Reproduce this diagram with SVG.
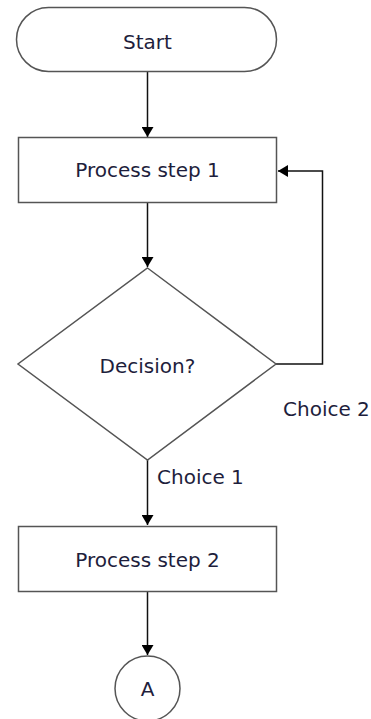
<svg xmlns="http://www.w3.org/2000/svg" width="371" height="719" viewBox="0 0 371 719">
<defs>
<marker id="arr" markerWidth="10" markerHeight="12" refX="10" refY="6" orient="auto" markerUnits="userSpaceOnUse">
<path d="M0,0 L10,6 L0,12 Z" fill="#000"/>
</marker>
</defs>
<style>
.shape{fill:#fff;stroke:#555;stroke-width:1.5}
.conn{fill:none;stroke:#111;stroke-width:1.5}
text{font-family:"DejaVu Sans","Verdana",sans-serif;font-size:20px;fill:#1e1e3c}
.c{text-anchor:middle}
</style>
<rect width="371" height="719" fill="#fff"/>
<g id="connectors">
<line class="conn" x1="147.5" y1="72" x2="147.5" y2="137" marker-end="url(#arr)"/>
<line class="conn" x1="147.5" y1="202" x2="147.5" y2="267" marker-end="url(#arr)"/>
<polyline class="conn" points="276,364 322.5,364 322.5,171 278,171" marker-end="url(#arr)"/>
<line class="conn" x1="147.5" y1="460" x2="147.5" y2="525" marker-end="url(#arr)"/>
<line class="conn" x1="147.5" y1="592" x2="147.5" y2="655" marker-end="url(#arr)"/>
<text x="157" y="484">Choice 1</text>
<text x="283" y="416">Choice 2</text>
</g>
<g id="start">
<rect class="shape" x="16.5" y="7.5" width="260" height="64" rx="32" ry="32"/>
<text class="c" x="147.5" y="49">Start</text>
</g>
<g id="process1">
<rect class="shape" x="18.5" y="137.5" width="258" height="65"/>
<text class="c" x="147.5" y="177">Process step 1</text>
</g>
<g id="decision">
<polygon class="shape" points="147.5,268 276,364 147.5,460 18,364"/>
<text class="c" x="147.5" y="373">Decision?</text>
</g>
<g id="process2">
<rect class="shape" x="18.5" y="526.5" width="258" height="65"/>
<text class="c" x="147.5" y="567">Process step 2</text>
</g>
<g id="connectorA">
<circle class="shape" cx="147.5" cy="688.5" r="32.5"/>
<text class="c" x="147.5" y="696">A</text>
</g>
</svg>
